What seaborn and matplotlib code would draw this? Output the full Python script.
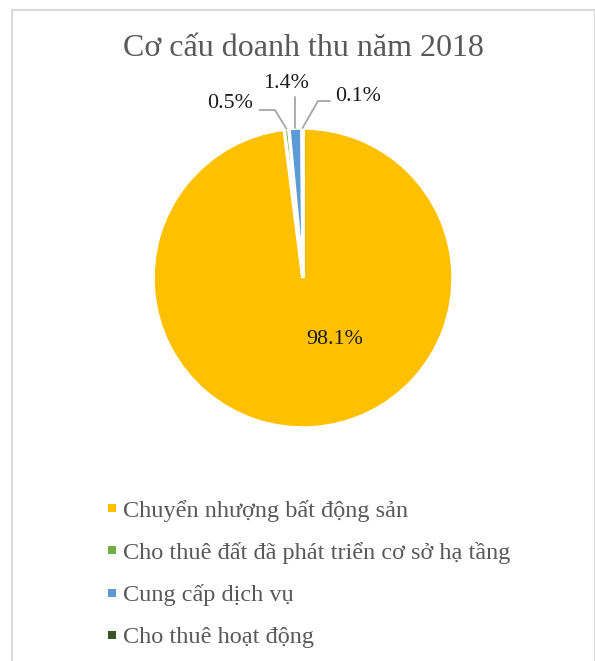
import matplotlib
matplotlib.use("Agg")
import matplotlib.pyplot as plt
import matplotlib.patches as mpatches
from matplotlib.lines import Line2D
import seaborn as sns
import numpy as np

# Data
categories = ["Chuyển nhượng bất động sản",
              "Cho thuê đất đã phát triển cơ sở hạ tầng",
              "Cung cấp dịch vụ",
              "Cho thuê hoạt động"]
shares = [98.1, 0.5, 1.4, 0.1]
pct_labels = ["98.1%", "0.5%", "1.4%", "0.1%"]
colors = ["#FFC000", "#70AD47", "#5B9BD5", "#375623"]

sns.set_theme(style="white")
plt.rcParams["font.family"] = ["Liberation Serif", "DejaVu Serif"]

W, H = 595, 661
fig = plt.figure(figsize=(W / 100, H / 100), dpi=100)

# chart frame
fig.patches.append(mpatches.Rectangle((12 / W, -0.01), (W - 12) / W, (H - 10) / H + 0.01,
                                      transform=fig.transFigure, fill=False,
                                      edgecolor="#D9D9D9", linewidth=1.5))

cx, cy, r = 303, 278, 150
ax = fig.add_axes([(cx - r) / W, (H - cy - r) / H, 2 * r / W, 2 * r / H])
wedges, _ = ax.pie(shares, colors=colors, startangle=90, counterclock=False,
                   radius=1, wedgeprops=dict(edgecolor="white", linewidth=2.5))
ax.set_xlim(-1, 1)
ax.set_ylim(-1, 1)
ax.set_aspect("equal")
ax.axis("off")

fig.text(303 / W, 1 - 49 / H, "Cơ cấu doanh thu năm 2018", ha="center", va="center",
         fontsize=23, color="#595959")

lab_color = "#1a1a1a"
ax.text(0.213, -0.413, pct_labels[0], ha="center", va="center", fontsize=15.8, color=lab_color)

# small slices: leader lines from the wedge edge
label_pos = {1: (-0.487, 1.165), 2: (-0.113, 1.30), 3: (0.367, 1.21)}
elbow = {1: (-0.187, 1.12), 2: None, 3: (0.10, 1.18)}
for i, (lx, ly) in label_pos.items():
    w = wedges[i]
    mid = np.deg2rad((w.theta1 + w.theta2) / 2)
    sx, sy = np.cos(mid), np.sin(mid)
    if elbow[i] is None:
        xs, ys = [sx, sx], [sy, 1.21]
    elif i == 1:
        ex, ey = elbow[i]
        xs, ys = [sx, ex, -0.29], [sy, ey, ey]
    else:
        ex, ey = elbow[i]
        xs, ys = [sx, ex, 0.18], [sy, ey, ey]
    ax.plot(xs, ys, color="#A6A6A6", linewidth=1.3, clip_on=False)
    ax.text(lx, ly, pct_labels[i], ha="center", va="center", fontsize=15.8, color=lab_color)

handles = [Line2D([], [], linestyle="none", marker="s", markersize=5.2,
                  markerfacecolor=c, markeredgewidth=0, label=l)
           for c, l in zip(colors, categories)]
leg = fig.legend(handles=handles, loc="upper left", bbox_to_anchor=(97 / W, 1 - 490 / H),
                 frameon=False, fontsize=17.5, handlelength=0.4,
                 handletextpad=0.27, labelspacing=0.83, borderaxespad=0)
for t in leg.get_texts():
    t.set_color("#595959")

fig.savefig("out.png", dpi=100, facecolor="white")
